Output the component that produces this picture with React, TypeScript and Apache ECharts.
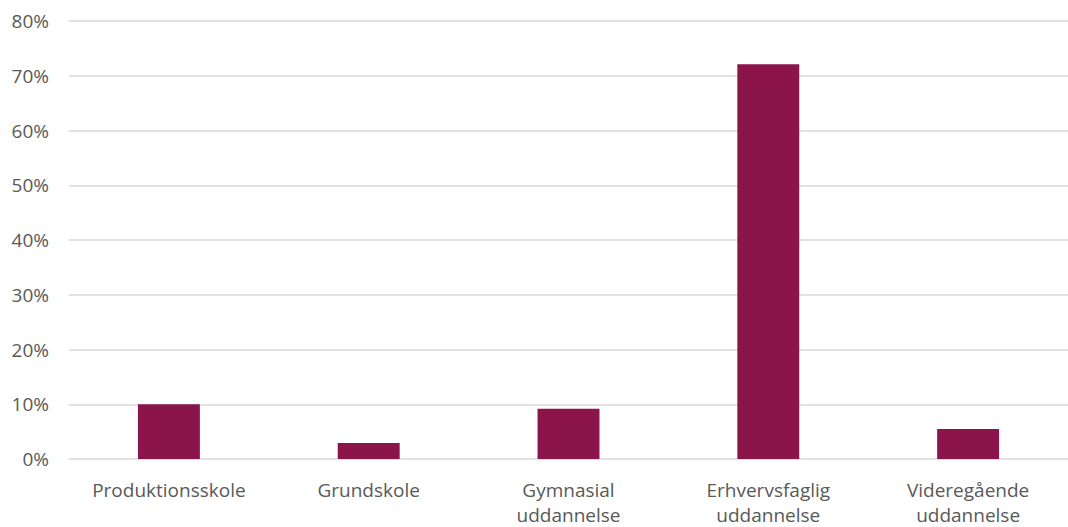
import React, { useEffect, useRef } from "react";
import * as echarts from "echarts";

const categories = [
  "Produktionsskole",
  "Grundskole",
  "Gymnasial\nuddannelse",
  "Erhvervsfaglig\nuddannelse",
  "Videregående\nuddannelse",
];
const shares = [10.0, 2.9, 9.2, 72.1, 5.5];
const yMax = 80;
const yStep = 10;

export default function App() {
  const ref = useRef<HTMLDivElement>(null);

  useEffect(() => {
    if (!ref.current) return;
    const chart = echarts.init(ref.current, null, { renderer: "svg" });
    chart.setOption({
      animation: false,
      grid: { left: 69, top: 21, width: 1011, height: 440 },
      xAxis: {
        type: "category",
        data: categories,
        axisLine: { show: false },
        axisTick: { show: false },
        axisLabel: {
          color: "#595959",
          fontFamily: "Open Sans",
          fontSize: 19,
          lineHeight: 25,
          margin: 18,
          interval: 0,
        },
      },
      yAxis: {
        type: "value",
        min: 0,
        max: yMax,
        interval: yStep,
        axisLine: { show: false },
        axisTick: { show: false },
        splitLine: { lineStyle: { color: "#d9d9d9", width: 1.5 } },
        axisLabel: {
          formatter: "{value}%",
          color: "#595959",
          fontFamily: "Open Sans",
          fontSize: 19,
          margin: 20,
        },
      },
      series: [
        {
          type: "bar",
          data: shares,
          barWidth: "31%",
          itemStyle: { color: "#8b154b" },
        },
      ],
    });
    return () => chart.dispose();
  }, []);

  return (
    <div
      ref={ref}
      style={{ position: "fixed", left: 0, top: 0, width: 1068, height: 527, background: "#fff" }}
    />
  );
}
